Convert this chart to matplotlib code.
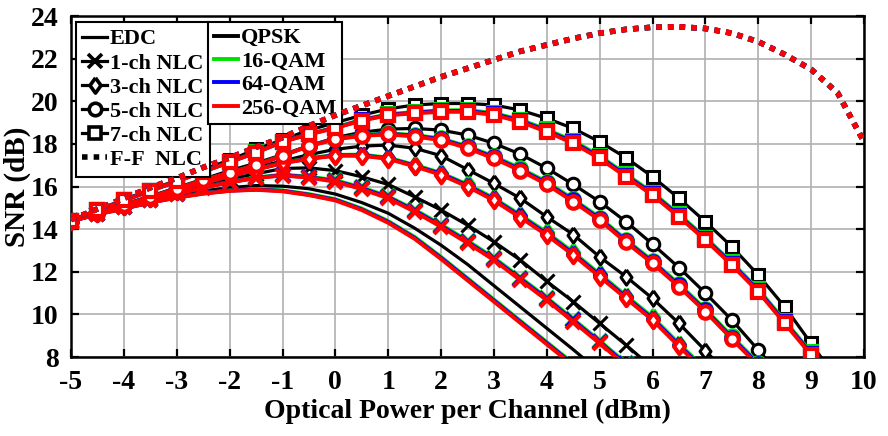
import matplotlib
matplotlib.use('Agg')
import matplotlib.pyplot as plt
from matplotlib.lines import Line2D

plt.rcParams['font.family'] = ['Liberation Serif', 'DejaVu Serif']
plt.rcParams['font.weight'] = 'bold'
plt.rcParams['axes.unicode_minus'] = False

# launch power grid (dBm), 0.5 dB steps
power = [-5, -4.5, -4, -3.5, -3, -2.5, -2, -1.5, -1, -0.5, 0, 0.5, 1, 1.5, 2,
         2.5, 3, 3.5, 4, 4.5, 5, 5.5, 6, 6.5, 7, 7.5, 8, 8.5, 9, 9.5, 10]

# EDC only
edc_qpsk = [14.4, 14.75, 15.05, 15.35, 15.6, 15.8, 15.95, 16.05, 16.02, 15.9, 15.65,
            15.25, 14.75, 14.05, 13.25, 12.35, 11.35, 10.35, 9.35, 8.35, 7.3]
edc_16qam = [14.38, 14.71, 14.98, 15.26, 15.5, 15.69, 15.82, 15.88, 15.82, 15.65, 15.41,
             14.97, 14.38, 13.64, 12.7, 11.7, 10.7, 9.7, 8.7, 7.7]
edc_64qam = [14.38, 14.7, 14.97, 15.25, 15.49, 15.68, 15.81, 15.86, 15.8, 15.62, 15.38,
             14.93, 14.34, 13.59, 12.65, 11.65, 10.65, 9.65, 8.65, 7.65]
edc_256qam = [14.38, 14.7, 14.97, 15.25, 15.48, 15.67, 15.8, 15.85, 15.78, 15.6, 15.35,
              14.9, 14.3, 13.55, 12.6, 11.6, 10.6, 9.6, 8.6, 7.6]

# 1-ch NLC
nlc1_qpsk = [14.4, 14.75, 15.1, 15.45, 15.75, 16.05, 16.35, 16.6, 16.85, 16.88, 16.75, 16.46,
             16.1, 15.52, 14.9, 14.19, 13.41, 12.55, 11.55, 10.6, 9.58, 8.56, 7.5]
nlc1_16qam = [14.38, 14.72, 15.05, 15.36, 15.66, 15.97, 16.22, 16.43, 16.56, 16.47, 16.3,
              15.96, 15.54, 14.92, 14.22, 13.46, 12.66, 11.73, 10.79, 9.78, 8.76, 7.72]
nlc1_64qam = [14.38, 14.72, 15.05, 15.35, 15.65, 15.96, 16.21, 16.41, 16.54, 16.44, 16.26,
              15.92, 15.5, 14.87, 14.16, 13.4, 12.6, 11.67, 10.73, 9.72, 8.7, 7.66]
nlc1_256qam = [14.38, 14.72, 15.05, 15.35, 15.65, 15.95, 16.2, 16.4, 16.52, 16.42, 16.23,
               15.88, 15.45, 14.82, 14.11, 13.35, 12.55, 11.61, 10.67, 9.66, 8.64, 7.6]

# 3-ch NLC
nlc3_qpsk = [14.4, 14.77, 15.12, 15.5, 15.85, 16.2, 16.55, 16.9, 17.2, 17.5, 17.75, 17.9, 17.95,
             17.8, 17.45, 16.8, 16.15, 15.45, 14.58, 13.75, 12.7, 11.77, 10.75, 9.58, 8.3, 7.0]
nlc3_16qam = [14.38, 14.74, 15.08, 15.45, 15.8, 16.15, 16.5, 16.81, 17.12, 17.33, 17.49, 17.5,
              17.36, 17.02, 16.64, 16.1, 15.46, 14.67, 13.85, 12.92, 11.9, 10.88, 9.87, 8.63, 7.43]
nlc3_64qam = [14.38, 14.74, 15.08, 15.45, 15.8, 16.15, 16.5, 16.8, 17.11, 17.31, 17.47, 17.47,
              17.33, 16.98, 16.6, 16.05, 15.4, 14.61, 13.78, 12.85, 11.83, 10.81, 9.8, 8.56, 7.36]
nlc3_256qam = [14.38, 14.74, 15.08, 15.45, 15.8, 16.15, 16.5, 16.8, 17.1, 17.3, 17.45, 17.45,
               17.3, 16.95, 16.55, 16.0, 15.35, 14.55, 13.72, 12.79, 11.77, 10.75, 9.74, 8.5, 7.3]

# 5-ch NLC
nlc5_qpsk = [14.4, 14.8, 15.18, 15.55, 15.95, 16.35, 16.75, 17.1, 17.5, 17.9, 18.3, 18.55, 18.7,
             18.73, 18.65, 18.42, 18.03, 17.52, 16.86, 16.1, 15.29, 14.35, 13.3, 12.2, 11.0,
             9.74, 8.33, 6.9]
nlc5_16qam = [14.38, 14.77, 15.14, 15.5, 15.9, 16.3, 16.66, 17.01, 17.46, 17.92, 18.25, 18.42,
              18.5, 18.42, 18.26, 17.89, 17.42, 16.86, 16.22, 15.41, 14.55, 13.5, 12.52, 11.42,
              10.25, 8.97, 7.72]
nlc5_64qam = [14.38, 14.77, 15.14, 15.5, 15.9, 16.3, 16.65, 17.0, 17.45, 17.91, 18.24, 18.4,
              18.48, 18.39, 18.22, 17.85, 17.37, 16.8, 16.16, 15.35, 14.49, 13.44, 12.46, 11.36,
              10.19, 8.91, 7.66]
nlc5_256qam = [14.38, 14.77, 15.14, 15.5, 15.9, 16.3, 16.65, 17.0, 17.45, 17.9, 18.22, 18.38,
               18.45, 18.35, 18.18, 17.8, 17.32, 16.75, 16.1, 15.29, 14.43, 13.38, 12.4, 11.3,
               10.13, 8.85, 7.6]

# 7-ch NLC
nlc7_qpsk = [14.42, 14.9, 15.4, 15.85, 16.3, 16.8, 17.25, 17.75, 18.2, 18.65, 19.0, 19.35, 19.65,
             19.83, 19.9, 19.9, 19.83, 19.59, 19.2, 18.73, 18.1, 17.35, 16.46, 15.45, 14.35,
             13.18, 11.85, 10.36, 8.64, 6.9]
nlc7_16qam = [14.4, 14.88, 15.35, 15.8, 16.25, 16.7, 17.15, 17.61, 18.11, 18.47, 18.78, 19.14,
              19.4, 19.5, 19.58, 19.59, 19.45, 19.14, 18.68, 18.15, 17.44, 16.58, 15.72, 14.7,
              13.61, 12.44, 11.18, 9.7, 8.22, 6.62]
nlc7_64qam = [14.4, 14.88, 15.35, 15.8, 16.25, 16.7, 17.15, 17.6, 18.1, 18.46, 18.76, 19.12,
              19.37, 19.47, 19.55, 19.55, 19.41, 19.09, 18.62, 18.09, 17.38, 16.52, 15.66, 14.64,
              13.55, 12.38, 11.12, 9.64, 8.16, 6.56]
nlc7_256qam = [14.4, 14.88, 15.35, 15.8, 16.25, 16.7, 17.15, 17.6, 18.1, 18.45, 18.75, 19.1,
               19.35, 19.44, 19.51, 19.51, 19.36, 19.04, 18.57, 18.03, 17.32, 16.46, 15.6, 14.58,
               13.49, 12.32, 11.06, 9.58, 8.1, 6.5]

# full-field NLC (all formats overlap)
ff_all = [14.45, 14.95, 15.45, 15.95, 16.4, 16.9, 17.35, 17.85, 18.3, 18.85, 19.35, 19.8, 20.25,
          20.7, 21.15, 21.55, 21.95, 22.35, 22.65, 22.95, 23.2, 23.38, 23.48, 23.5, 23.42,
          23.2, 22.8, 22.2, 21.5, 20.4, 18.1]

format_names = ['QPSK', '16-QAM', '64-QAM', '256-QAM']
format_colors = ['black', '#00e000', '#0000ff', '#ff0000']
scheme_names = ['EDC', '1-ch NLC', '3-ch NLC', '5-ch NLC', '7-ch NLC', 'F-F  NLC']

schemes = [
    (None, [edc_qpsk, edc_16qam, edc_64qam, edc_256qam]),
    ('x', [nlc1_qpsk, nlc1_16qam, nlc1_64qam, nlc1_256qam]),
    ('D', [nlc3_qpsk, nlc3_16qam, nlc3_64qam, nlc3_256qam]),
    ('o', [nlc5_qpsk, nlc5_16qam, nlc5_64qam, nlc5_256qam]),
    ('s', [nlc7_qpsk, nlc7_16qam, nlc7_64qam, nlc7_256qam]),
]

diamond = [(0, 1), (0.72, 0), (0, -1), (-0.72, 0), (0, 1)]
msizes = {'x': 9.5, 'D': 11, 'o': 9, 's': 8.5}

fig = plt.figure(figsize=(8.88, 4.36), dpi=100)
ax = fig.add_axes([0.08, 0.181, 0.893, 0.782])

for fmt_i in range(4):
    col = format_colors[fmt_i]
    lw = 2.3 if fmt_i == 0 else 2.8
    for mk, series in schemes:
        y = series[fmt_i]
        x = power[:len(y)]
        if mk is None:
            ax.plot(x, y, color=col, lw=lw, zorder=2 + fmt_i)
        else:
            m = diamond if mk == 'D' else mk
            ax.plot(x, y, color=col, lw=lw, marker=m, ms=msizes[mk],
                    mfc='white', mec=col, mew=2.2 if fmt_i == 0 else 3.0,
                    zorder=2 + fmt_i)
    ax.plot(power[:len(ff_all)], ff_all, color=col, lw=4.0,
            linestyle=(0, (1, 1.1)), dash_capstyle='butt', zorder=6 + fmt_i)

ax.set_xlim(-5, 10)
ax.set_ylim(8, 24)
ax.set_xticks(range(-5, 11))
ax.set_yticks(range(8, 25, 2))
ax.grid(True, color='#b0b0b0', lw=1.2)
ax.set_axisbelow(True)
ax.tick_params(direction='in', length=6, width=1.6, top=True, right=True,
               labelsize=20, pad=9)
for lab in ax.get_xticklabels() + ax.get_yticklabels():
    lab.set_fontweight('bold')
for sp in ax.spines.values():
    sp.set_linewidth(1.8)

ax.set_xlabel('Optical Power per Channel (dBm)', fontsize=20, fontweight='bold', labelpad=3)
ax.set_ylabel('SNR (dB)', fontsize=21, fontweight='bold', labelpad=0)

# legend: schemes
scheme_handles = [Line2D([], [], color='black', lw=2.3)]
for mk, _ in schemes[1:]:
    m = diamond if mk == 'D' else mk
    scheme_handles.append(Line2D([], [], color='black', lw=2.3, marker=m,
                                 ms=msizes[mk], mfc='white', mec='black', mew=2.6))
scheme_handles.append(Line2D([], [], color='black', lw=4.0, linestyle=(0, (1, 1.1)),
                             dash_capstyle='butt'))
leg1 = ax.legend(scheme_handles, scheme_names, loc='upper left',
                 bbox_to_anchor=(0.006, 0.982), borderaxespad=0, fontsize=16,
                 handlelength=1.1, handletextpad=0.12, labelspacing=0.16,
                 borderpad=0.3, fancybox=False, framealpha=1, edgecolor='black')
leg1.get_frame().set_linewidth(1.5)
ax.add_artist(leg1)

fmt_handles = [Line2D([], [], color=c, lw=2.8) for c in format_colors]
leg2 = ax.legend(fmt_handles, format_names, loc='upper left',
                 bbox_to_anchor=(0.173, 0.982), borderaxespad=0, fontsize=16,
                 handlelength=1.1, handletextpad=0.12, labelspacing=0.13,
                 borderpad=0.25, fancybox=False, framealpha=1, edgecolor='black')
leg2.get_frame().set_linewidth(1.5)

fig.savefig('out.png', dpi=100)
